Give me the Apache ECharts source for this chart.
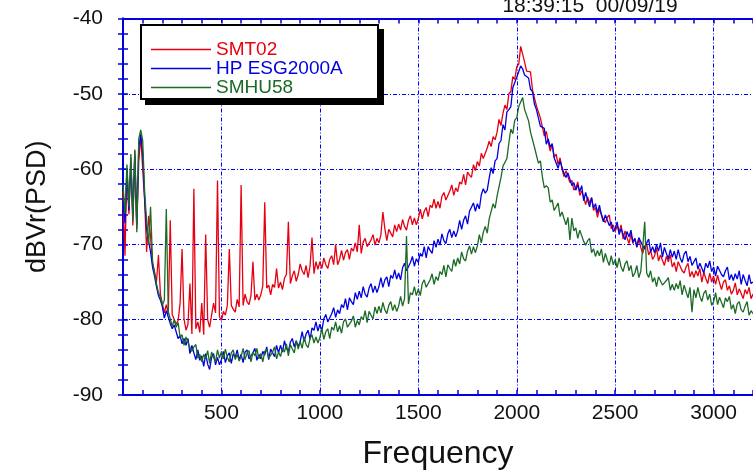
<!DOCTYPE html>
<html>
<head>
<meta charset="utf-8">
<script src="https://cdn.jsdelivr.net/npm/echarts@6/dist/echarts.min.js"></script>
<style>
html, body { margin: 0; padding: 0; background: #fff; }
#psd { width: 753px; height: 475px; }
</style>
</head>
<body>
<div id="psd"></div>
<script>
var seriesNames = ['SMT02', 'HP ESG2000A', 'SMHU58'];
var stampText = '18:39:15  00/09/19';

// frequency bins (Hz)
var freq = [
    0,10,20,30,40,50,60,70,80,90,
    100,110,120,130,140,150,160,170,180,190,
    200,210,220,230,240,250,260,270,280,290,
    300,310,320,330,340,350,360,370,380,390,
    400,410,420,430,440,450,460,470,480,490,
    500,510,520,530,540,550,560,570,580,590,
    600,610,620,630,640,650,660,670,680,690,
    700,710,720,730,740,750,760,770,780,790,
    800,810,820,830,840,850,860,870,880,890,
    900,910,920,930,940,950,960,970,980,990,
    1000,1010,1020,1030,1040,1050,1060,1070,1080,1090,
    1100,1110,1120,1130,1140,1150,1160,1170,1180,1190,
    1200,1210,1220,1230,1240,1250,1260,1270,1280,1290,
    1300,1310,1320,1330,1340,1350,1360,1370,1380,1390,
    1400,1410,1420,1430,1440,1450,1460,1470,1480,1490,
    1500,1510,1520,1530,1540,1550,1560,1570,1580,1590,
    1600,1610,1620,1630,1640,1650,1660,1670,1680,1690,
    1700,1710,1720,1730,1740,1750,1760,1770,1780,1790,
    1800,1810,1820,1830,1840,1850,1860,1870,1880,1890,
    1900,1910,1920,1930,1940,1950,1960,1970,1980,1990,
    2000,2010,2020,2030,2040,2050,2060,2070,2080,2090,
    2100,2110,2120,2130,2140,2150,2160,2170,2180,2190,
    2200,2210,2220,2230,2240,2250,2260,2270,2280,2290,
    2300,2310,2320,2330,2340,2350,2360,2370,2380,2390,
    2400,2410,2420,2430,2440,2450,2460,2470,2480,2490,
    2500,2510,2520,2530,2540,2550,2560,2570,2580,2590,
    2600,2610,2620,2630,2640,2650,2660,2670,2680,2690,
    2700,2710,2720,2730,2740,2750,2760,2770,2780,2790,
    2800,2810,2820,2830,2840,2850,2860,2870,2880,2890,
    2900,2910,2920,2930,2940,2950,2960,2970,2980,2990,
    3000,3010,3020,3030,3040,3050,3060,3070,3080,3090,
    3100,3110,3120,3130,3140,3150,3160,3170,3180,3190,
    3200
];

// SMT02 (dBVr)
var smt02 = [
    -63.0,-71.5,-60.2,-66.0,-58.5,-67.5,-57.6,-68.0,-59.0,-55.6,
    -60.0,-64.2,-71.0,-66.2,-69.0,-72.6,-73.6,-75.0,-71.4,-76.6,
    -77.9,-79.1,-78.0,-79.3,-66.8,-79.3,-79.1,-80.6,-80.1,-77.8,
    -70.6,-79.9,-81.4,-80.6,-75.2,-81.9,-62.6,-81.2,-80.3,-81.7,
    -77.8,-82.0,-68.7,-80.0,-81.0,-81.0,-77.8,-79.1,-61.5,-79.6,
    -80.1,-78.9,-79.4,-78.1,-70.6,-78.1,-78.6,-79.0,-77.3,-78.3,
    -62.1,-78.1,-76.6,-77.6,-78.0,-76.8,-72.3,-77.4,-76.6,-77.4,
    -76.7,-75.5,-64.4,-75.8,-75.4,-76.7,-75.3,-75.7,-73.2,-75.8,
    -75.0,-76.0,-74.5,-74.0,-67.0,-75.2,-74.2,-73.5,-74.9,-74.0,
    -72.6,-73.5,-74.0,-72.8,-74.4,-72.9,-69.1,-73.9,-72.3,-73.3,
    -72.3,-73.2,-71.8,-72.7,-73.2,-72.0,-71.5,-72.7,-70.0,-72.7,
    -72.0,-70.8,-72.1,-71.1,-70.7,-72.0,-70.5,-70.9,-69.8,-71.0,
    -67.4,-71.2,-69.7,-69.2,-70.3,-70.4,-69.4,-68.7,-70.1,-69.2,
    -69.8,-68.7,-65.7,-67.9,-69.5,-68.0,-68.5,-69.0,-67.4,-68.3,
    -67.3,-68.1,-66.7,-67.6,-68.1,-66.8,-66.2,-67.4,-66.5,-67.4,
    -66.6,-65.3,-66.6,-65.6,-65.1,-66.3,-64.8,-65.1,-64.0,-65.2,
    -64.3,-65.2,-63.6,-63.1,-64.1,-64.1,-62.9,-62.1,-63.5,-62.5,
    -63.0,-61.7,-62.0,-60.7,-62.1,-60.4,-60.8,-61.1,-59.4,-60.2,
    -59.0,-59.6,-57.9,-58.6,-58.8,-57.2,-56.3,-57.0,-55.7,-56.1,
    -55.1,-53.4,-54.2,-52.6,-51.5,-52.1,-50.0,-49.7,-47.7,-48.1,
    -46.4,-46.1,-43.7,-43.6,-45.8,-47.0,-46.9,-47.1,-49.5,-49.7,
    -51.6,-51.6,-53.2,-53.1,-55.6,-55.0,-56.4,-57.6,-56.7,-58.4,
    -58.0,-59.4,-58.5,-60.0,-61.0,-60.2,-60.2,-61.8,-61.5,-62.8,
    -62.5,-61.7,-63.5,-62.9,-62.9,-64.7,-63.7,-64.5,-63.8,-65.5,
    -65.1,-66.4,-65.3,-65.2,-66.7,-67.1,-66.4,-66.1,-67.9,-67.4,
    -68.3,-67.5,-68.3,-67.4,-69.3,-68.2,-69.1,-69.9,-68.6,-69.9,
    -69.2,-70.3,-69.2,-70.4,-71.2,-70.2,-69.9,-71.4,-70.8,-72.0,
    -71.5,-70.5,-72.2,-71.4,-71.3,-72.8,-71.6,-72.3,-71.4,-73.0,
    -72.4,-73.6,-72.3,-72.2,-73.5,-73.8,-73.0,-72.5,-74.3,-73.6,
    -74.4,-73.5,-74.2,-73.2,-75.0,-73.7,-74.5,-75.2,-73.8,-75.0,
    -74.2,-75.3,-74.1,-75.1,-76.0,-75.0,-74.7,-76.1,-75.5,-76.6,
    -76.1,-75.1,-76.7,-75.9,-75.7,-77.2,-76.0,-76.6,-75.7,-77.2,
    -76.6
];

// HP ESG2000A (dBVr)
var esg2000a = [
    -64.0,-67.2,-60.0,-65.5,-59.2,-66.2,-58.2,-67.4,-57.2,-55.4,
    -58.0,-64.0,-68.0,-69.6,-71.0,-73.0,-74.2,-75.6,-76.8,-77.4,
    -78.3,-79.8,-78.8,-78.9,-80.5,-81.2,-80.7,-80.5,-82.5,-82.1,
    -83.2,-82.5,-83.4,-82.5,-84.5,-83.4,-84.4,-85.3,-84.0,-85.4,
    -84.8,-86.2,-84.5,-85.9,-86.6,-85.0,-84.5,-86.0,-85.0,-86.0,
    -85.3,-84.2,-85.7,-84.8,-84.4,-85.8,-84.5,-85.0,-84.0,-85.3,
    -84.6,-85.7,-84.3,-84.0,-85.2,-85.4,-84.4,-83.8,-85.4,-84.6,
    -85.2,-84.2,-84.7,-83.6,-85.3,-83.9,-84.4,-84.9,-83.4,-84.4,
    -83.4,-84.3,-82.8,-83.8,-84.2,-83.0,-82.5,-83.6,-82.8,-83.6,
    -82.9,-81.6,-82.9,-81.9,-81.4,-82.6,-81.1,-81.4,-80.3,-81.5,
    -80.6,-81.5,-79.9,-79.3,-80.3,-80.3,-79.2,-78.4,-79.7,-78.7,
    -79.2,-78.0,-78.4,-77.2,-78.7,-77.1,-77.6,-78.0,-76.4,-77.3,
    -76.2,-77.1,-75.6,-76.6,-77.0,-75.8,-75.2,-76.4,-75.5,-76.4,
    -75.6,-74.4,-75.7,-74.7,-74.3,-75.6,-74.1,-74.5,-73.4,-74.6,
    -73.8,-74.7,-73.1,-72.5,-73.5,-73.5,-72.4,-71.6,-72.9,-71.9,
    -72.4,-71.2,-71.6,-70.3,-71.8,-70.3,-70.8,-71.2,-69.5,-70.4,
    -69.3,-70.1,-68.6,-69.5,-69.9,-68.6,-68.0,-69.1,-68.2,-69.0,
    -68.2,-66.8,-68.0,-66.8,-66.2,-67.3,-65.6,-65.8,-64.5,-65.6,
    -64.6,-65.3,-63.4,-62.6,-63.2,-62.8,-61.2,-59.8,-60.6,-58.9,
    -58.6,-56.6,-56.2,-54.1,-54.8,-52.4,-52.1,-51.7,-49.2,-49.3,
    -47.8,-47.7,-46.3,-46.7,-47.5,-47.4,-47.9,-49.4,-49.7,-51.4,
    -52.1,-51.9,-54.3,-54.2,-54.6,-56.7,-56.0,-57.1,-56.6,-58.5,
    -58.4,-59.9,-58.9,-59.0,-60.6,-61.1,-60.5,-60.3,-62.2,-61.8,
    -62.8,-62.1,-63.0,-62.2,-64.2,-63.1,-64.1,-65.0,-63.8,-65.2,
    -64.6,-65.8,-64.8,-66.1,-67.0,-66.1,-65.9,-67.5,-67.0,-68.3,
    -67.9,-67.0,-68.7,-67.9,-67.8,-69.4,-68.3,-69.0,-68.1,-69.7,
    -69.2,-70.4,-69.1,-68.9,-70.2,-70.6,-69.8,-69.3,-71.0,-70.3,
    -71.1,-70.0,-70.9,-69.8,-71.7,-70.4,-71.2,-71.9,-70.7,-71.7,
    -70.9,-72.0,-70.7,-71.8,-72.4,-71.3,-70.9,-72.3,-71.6,-72.8,
    -72.8,-71.8,-73.3,-72.5,-72.3,-73.8,-72.5,-73.1,-72.2,-73.6,
    -73.0,-74.2,-72.9,-72.7,-74.0,-74.3,-73.5,-73.0,-74.7,-74.0,
    -74.8,-73.9,-74.6,-73.5,-75.3,-74.0,-74.8,-75.5,-74.0,-75.2,
    -75.0
];

// SMHU58 (dBVr)
var smhu58 = [
    -62.0,-66.0,-59.4,-65.0,-58.0,-67.0,-57.4,-68.4,-56.0,-54.8,
    -56.2,-63.0,-67.0,-70.0,-65.0,-72.2,-73.8,-75.2,-76.4,-77.0,
    -78.1,-77.4,-65.3,-78.9,-79.1,-80.9,-80.0,-81.0,-80.4,-82.3,
    -82.0,-83.4,-82.3,-82.2,-83.7,-84.2,-83.6,-83.3,-85.1,-84.6,
    -85.6,-84.6,-85.2,-84.1,-85.8,-84.3,-85.0,-85.6,-84.0,-85.1,
    -84.2,-85.2,-83.9,-85.0,-85.6,-84.4,-84.0,-85.3,-84.6,-85.5,
    -84.9,-83.8,-85.3,-84.4,-84.1,-85.6,-84.3,-84.8,-83.8,-85.2,
    -84.5,-85.6,-84.2,-83.9,-85.1,-85.2,-84.3,-83.6,-85.2,-84.3,
    -84.9,-83.8,-84.3,-83.2,-84.8,-83.3,-83.9,-84.4,-82.8,-83.9,
    -82.9,-83.8,-82.3,-83.3,-83.7,-82.5,-82.0,-83.1,-82.3,-83.1,
    -82.4,-81.2,-82.6,-81.6,-81.2,-82.5,-81.0,-81.4,-80.3,-81.6,
    -80.8,-81.8,-80.3,-79.9,-81.0,-81.2,-80.2,-79.5,-81.0,-80.1,
    -80.7,-79.6,-80.0,-78.8,-80.4,-78.9,-79.4,-79.9,-78.3,-79.2,
    -78.2,-79.1,-77.7,-78.7,-79.2,-78.1,-77.6,-78.8,-78.0,-78.9,
    -78.2,-76.9,-78.2,-77.2,-68.9,-77.9,-76.4,-76.7,-75.6,-76.8,
    -75.9,-76.8,-75.2,-74.7,-75.7,-75.8,-74.7,-73.9,-75.3,-74.3,
    -74.8,-73.6,-74.0,-72.8,-74.3,-72.7,-73.2,-73.6,-72.0,-72.9,
    -71.8,-72.6,-71.0,-71.9,-72.2,-70.9,-70.2,-71.3,-70.3,-71.1,
    -70.2,-68.7,-69.8,-68.4,-67.6,-68.5,-66.6,-66.4,-64.6,-65.2,
    -63.6,-63.6,-61.1,-59.6,-59.6,-58.6,-56.5,-54.7,-55.3,-53.5,
    -53.2,-51.7,-51.5,-50.5,-52.1,-52.1,-53.6,-55.1,-55.1,-57.1,
    -57.2,-59.2,-58.9,-61.0,-62.5,-62.2,-62.5,-64.4,-64.1,-65.5,
    -65.3,-64.5,-66.3,-65.7,-65.7,-67.4,-66.4,-69.4,-66.5,-68.2,
    -67.8,-69.2,-68.1,-68.1,-69.6,-70.1,-69.5,-69.2,-71.1,-70.6,
    -71.6,-70.8,-71.5,-70.6,-72.4,-71.2,-72.1,-72.8,-71.5,-72.7,
    -72.0,-73.1,-71.8,-73.0,-73.6,-72.6,-72.2,-73.5,-72.8,-74.3,
    -73.8,-72.8,-74.4,-73.6,-73.4,-67.0,-73.8,-74.4,-73.5,-75.0,
    -74.4,-75.6,-74.3,-74.1,-75.4,-75.6,-74.8,-74.4,-76.1,-75.3,
    -76.1,-75.2,-75.9,-74.8,-76.7,-75.4,-76.3,-77.1,-75.7,-79.0,
    -76.0,-77.1,-75.7,-76.9,-77.6,-76.5,-76.1,-77.4,-76.6,-78.1,
    -77.6,-76.4,-78.0,-77.0,-76.9,-78.4,-77.1,-77.6,-76.9,-78.6,
    -78.0,-79.2,-77.9,-77.6,-78.7,-79.0,-78.2,-77.6,-79.4,-78.8,
    -79.2
];

var lineColors = ['#e60012', '#0000e0', '#1b6a26'];
var axisBlue = '#0000dd';
var gridBlue = '#0000ff';
var txtFont = '"Liberation Sans", Arial, sans-serif';

function pairs(vals) {
    return freq.map(function (f, i) { return [f, vals[i]]; });
}

var psdChart = echarts.init(document.getElementById('psd'));

var option = {
    animation: false,
    backgroundColor: '#fff',
    textStyle: { fontFamily: txtFont },
    graphic: [
        {
            // legend drop shadow
            type: 'rect',
            z: 1,
            shape: { x: 145, y: 29, width: 239, height: 76 },
            style: { fill: '#000' }
        },
        {
            type: 'rect',
            z: 2,
            shape: { x: 141, y: 25, width: 237, height: 74 },
            style: { fill: '#fff', stroke: '#000', lineWidth: 2 }
        },
        {
            type: 'text',
            z: 2,
            x: 590,
            y: 6,
            style: {
                text: stampText,
                fill: '#111',
                font: '21px ' + txtFont,
                textAlign: 'center',
                textVerticalAlign: 'middle'
            }
        }
    ],
    legend: {
        orient: 'vertical',
        left: 140,
        top: 24,
        z: 10,
        padding: [16, 12, 8, 11],
        itemGap: 0,
        itemWidth: 60,
        itemHeight: 1.5,
        icon: 'rect',
        textStyle: { fontSize: 19, lineHeight: 17, fontFamily: txtFont },
        data: [
            { name: seriesNames[0], textStyle: { color: lineColors[0] } },
            { name: seriesNames[1], textStyle: { color: lineColors[1] } },
            { name: seriesNames[2], textStyle: { color: lineColors[2] } }
        ]
    },
    grid: { left: 123, top: 18.5, width: 632, height: 382 },
    xAxis: [
        {
            type: 'value',
            min: 0,
            max: 3200,
            interval: 500,
            name: 'Frequency',
            nameLocation: 'middle',
            nameGap: 43,
            nameTextStyle: { fontSize: 32, color: '#111', fontFamily: txtFont },
            axisLine: { show: true, lineStyle: { color: axisBlue, width: 2 } },
            axisTick: { show: true, inside: true, length: 5, lineStyle: { color: axisBlue, width: 1.5 } },
            minorTick: { show: true, splitNumber: 5, length: 5, lineStyle: { color: axisBlue, width: 1.5 } },
            axisLabel: {
                showMinLabel: false,
                showMaxLabel: false,
                margin: 8,
                fontSize: 21,
                color: '#111',
                fontFamily: txtFont,
                formatter: function (v) { return String(v); }
            },
            splitLine: { show: true, lineStyle: { color: gridBlue, width: 1, type: [4, 2, 1, 2] } }
        },
        {
            type: 'value',
            position: 'top',
            min: 0,
            max: 3200,
            interval: 500,
            axisLine: { show: true, lineStyle: { color: axisBlue, width: 2, type: [2, 1] } },
            axisTick: { show: true, inside: true, length: 5, lineStyle: { color: axisBlue, width: 1.5 } },
            minorTick: { show: true, splitNumber: 5, length: 5, lineStyle: { color: axisBlue, width: 1.5 } },
            axisLabel: { show: false },
            splitLine: { show: false }
        }
    ],
    yAxis: [
        {
            type: 'value',
            min: -90,
            max: -40,
            interval: 10,
            name: 'dBVr(PSD)',
            nameLocation: 'middle',
            nameRotate: 90,
            nameGap: 72,
            nameTextStyle: { fontSize: 27, color: '#111', fontFamily: txtFont },
            axisLine: { show: true, lineStyle: { color: axisBlue, width: 2 } },
            axisTick: { show: true, inside: true, length: 5, lineStyle: { color: axisBlue, width: 1.5 } },
            minorTick: { show: true, splitNumber: 5, length: 5, lineStyle: { color: axisBlue, width: 1.5 } },
            axisLabel: { margin: 20, fontSize: 21, color: '#111', fontFamily: txtFont },
            splitLine: { show: true, lineStyle: { color: gridBlue, width: 1, type: [4, 2, 1, 2] } }
        },
        {
            type: 'value',
            position: 'right',
            min: -90,
            max: -40,
            interval: 10,
            axisLine: { show: true, lineStyle: { color: axisBlue, width: 2 } },
            axisTick: { show: true, inside: true, length: 5, lineStyle: { color: axisBlue, width: 1.5 } },
            minorTick: { show: true, splitNumber: 5, length: 5, lineStyle: { color: axisBlue, width: 1.5 } },
            axisLabel: { show: false },
            splitLine: { show: false }
        }
    ],
    series: [
        {
            name: seriesNames[0],
            type: 'line',
            data: pairs(smt02),
            showSymbol: false,
            symbol: 'none',
            lineStyle: { color: lineColors[0], width: 1.3 },
            itemStyle: { color: lineColors[0] }
        },
        {
            name: seriesNames[1],
            type: 'line',
            data: pairs(esg2000a),
            showSymbol: false,
            symbol: 'none',
            lineStyle: { color: lineColors[1], width: 1.3 },
            itemStyle: { color: lineColors[1] }
        },
        {
            name: seriesNames[2],
            type: 'line',
            data: pairs(smhu58),
            showSymbol: false,
            symbol: 'none',
            lineStyle: { color: lineColors[2], width: 1.3 },
            itemStyle: { color: lineColors[2] }
        }
    ]
};

psdChart.setOption(option, true);
</script>
</body>
</html>
